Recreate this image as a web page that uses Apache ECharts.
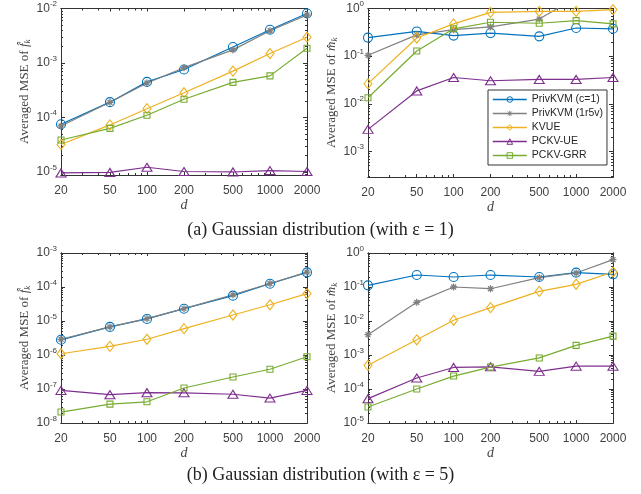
<!DOCTYPE html>
<html>
<head>
<meta charset="utf-8">
<script src="https://cdn.jsdelivr.net/npm/echarts@6/dist/echarts.min.js"></script>
<style>
  html, body { margin: 0; padding: 0; background: #fff; }
  #main { width: 641px; height: 494px; }
</style>
</head>
<body>
<div id="main"></div>
<script>
const chartDom = document.getElementById('main');
const myChart = echarts.init(chartDom);

// x values (domain size d)
const dims = [20, 50, 100, 200, 500, 1000, 2000];
const names = ['PrivKVM (c=1)', 'PrivKVM (1r5v)', 'KVUE', 'PCKV-UE', 'PCKV-GRR'];

// (a) eps = 1, MSE of f
const fA_c1   = [7.5e-5, 1.91e-4, 4.5e-4, 7.6e-4, 1.96e-3, 4.08e-3, 8.1e-3];
const fA_1r5v = [7.0e-5, 1.9e-4, 4.3e-4, 8.2e-4, 1.74e-3, 3.9e-3, 7.6e-3];
const fA_kvue = [3.2e-5, 7.3e-5, 1.45e-4, 2.85e-4, 7.1e-4, 1.49e-3, 2.97e-3];
const fA_ue   = [9.6e-6, 9.8e-6, 1.22e-5, 1.02e-5, 1.0e-5, 1.06e-5, 1.02e-5];
const fA_grr  = [3.86e-5, 6.3e-5, 1.1e-4, 2.16e-4, 4.4e-4, 5.8e-4, 1.86e-3];
// (a) eps = 1, MSE of m
const mA_c1   = [0.245, 0.33, 0.27, 0.305, 0.26, 0.39, 0.375];
const mA_1r5v = [0.104, 0.28, 0.36, 0.41, 0.6, 1.7, 2.5];
const mA_kvue = [0.0264, 0.24, 0.475, 0.83, 0.87, 0.87, 0.95];
const mA_ue   = [0.0029, 0.0186, 0.0356, 0.0304, 0.0324, 0.0324, 0.0356];
const mA_grr  = [0.0134, 0.128, 0.375, 0.515, 0.49, 0.557, 0.475];
// (b) eps = 5, MSE of f
const fB_c1   = [2.8e-6, 6.7e-6, 1.15e-5, 2.3e-5, 5.56e-5, 1.25e-4, 2.7e-4];
const fB_1r5v = [2.9e-6, 6.7e-6, 1.17e-5, 2.3e-5, 5.9e-5, 1.27e-4, 2.75e-4];
const fB_kvue = [1.09e-6, 1.8e-6, 2.9e-6, 5.96e-6, 1.5e-5, 3.0e-5, 6.4e-5];
const fB_ue   = [9.1e-8, 6.8e-8, 7.8e-8, 7.7e-8, 7.0e-8, 5.4e-8, 9.1e-8];
const fB_grr  = [2.1e-8, 3.6e-8, 4.2e-8, 1.07e-7, 2.25e-7, 3.8e-7, 8.9e-7];
// (b) eps = 5, MSE of m
const mB_c1   = [0.112, 0.225, 0.197, 0.225, 0.197, 0.264, 0.236];
const mB_1r5v = [0.00396, 0.0354, 0.1, 0.089, 0.188, 0.258, 0.637];
const mB_kvue = [4.97e-4, 2.8e-3, 0.0105, 0.0247, 0.0746, 0.12, 0.276];
const mB_ue   = [5.2e-5, 2.1e-4, 4.3e-4, 4.5e-4, 3.3e-4, 4.7e-4, 4.7e-4];
const mB_grr  = [2.96e-5, 1.0e-4, 2.4e-4, 4.4e-4, 8.2e-4, 1.92e-3, 3.6e-3];

const colors = ['#0072BD', '#808080', '#EDB120', '#7E2F8E', '#77AC30'];
const star = 'path://M5,0L5,10M0,5L10,5M1.5,1.5L8.5,8.5M8.5,1.5L1.5,8.5';
const symbols = ['circle', star, 'diamond', 'triangle', 'rect'];
const symbolSizes = [9, 7, [8, 10], [10, 8], 6];

// minor tick positions on the log x axis
const xMinors = [30, 40, 60, 70, 80, 90, 300, 400, 600, 700, 800, 900];

const panels = [
    { grid: { left: 61, top: 5, width: 246, height: 170 }, min: 8.8e-6, max: 1e-2, lo: -5, hi: -2,
      yName: 'Averaged MSE of {it|f\u0302}{sub|k}', data: [fA_c1, fA_1r5v, fA_kvue, fA_ue, fA_grr] },
    { grid: { left: 368, top: 5, width: 245, height: 172 }, min: 2.9e-4, max: 1, lo: -3, hi: 0,
      yName: 'Averaged MSE of {it|m\u0302}{sub|k}', data: [mA_c1, mA_1r5v, mA_kvue, mA_ue, mA_grr] },
    { grid: { left: 61, top: 253, width: 246, height: 170 }, min: 1e-8, max: 1e-3, lo: -8, hi: -3,
      yName: 'Averaged MSE of {it|f\u0302}{sub|k}', data: [fB_c1, fB_1r5v, fB_kvue, fB_ue, fB_grr] },
    { grid: { left: 368, top: 253, width: 245, height: 170 }, min: 1e-5, max: 1, lo: -5, hi: 0,
      yName: 'Averaged MSE of {it|m\u0302}{sub|k}', data: [mB_c1, mB_1r5v, mB_kvue, mB_ue, mB_grr] }
];

const axisColor = '#333';
const labelColor = '#404040';
const grids = [], xAxes = [], yAxes = [], series = [];

panels.forEach(function (p, gi) {
    grids.push(p.grid);
    let majors = [], minors = [];
    for (let e = p.lo - 1; e <= p.hi; e++) {
        const base = Math.pow(10, e);
        if (base >= p.min * 0.999 && base <= p.max * 1.001) majors.push(base);
        for (let k = 2; k <= 9; k++) {
            const v = k * base;
            if (v > p.min && v < p.max) minors.push(v);
        }
    }
    const line = { show: true, lineStyle: { color: axisColor, width: 1 } };
    const xBase = { gridIndex: gi, type: 'log', min: 20, max: 2000, axisLine: line, splitLine: { show: false } };
    // bottom x axis with labels
    xAxes.push(Object.assign({}, xBase, {
        position: 'bottom',
        axisTick: { inside: true, length: 3, customValues: dims, lineStyle: { color: axisColor } },
        axisLabel: { customValues: dims, margin: 10, color: labelColor, fontSize: 12, fontFamily: 'Liberation Sans',
                     formatter: function (v) { return String(v); } },
        name: 'd', nameLocation: 'middle', nameGap: 22,
        nameTextStyle: { fontFamily: 'Liberation Serif', fontStyle: 'italic', fontSize: 14, color: '#444' }
    }));
    xAxes.push(Object.assign({}, xBase, {
        position: 'bottom', axisLabel: { show: false },
        axisTick: { inside: true, length: 2, customValues: xMinors, lineStyle: { color: axisColor } }
    }));
    // top x axis (box)
    xAxes.push(Object.assign({}, xBase, {
        position: 'top', axisLabel: { show: false },
        axisTick: { inside: true, length: 3, customValues: dims, lineStyle: { color: axisColor } }
    }));
    xAxes.push(Object.assign({}, xBase, {
        position: 'top', axisLabel: { show: false },
        axisTick: { inside: true, length: 2, customValues: xMinors, lineStyle: { color: axisColor } }
    }));

    const yBase = { gridIndex: gi, type: 'log', min: p.min, max: p.max, axisLine: line, splitLine: { show: false } };
    yAxes.push(Object.assign({}, yBase, {
        position: 'left',
        axisTick: { inside: true, length: 4, customValues: majors, lineStyle: { color: axisColor } },
        axisLabel: {
            customValues: majors, margin: 4, color: labelColor, fontFamily: 'Liberation Sans',
            formatter: function (v) { return '{b|10}{s|' + Math.round(Math.log10(v)) + '}'; },
            rich: { b: { fontSize: 12, color: labelColor }, s: { fontSize: 8, color: labelColor, padding: [0, 0, 9, 0] } }
        },
        name: p.yName, nameLocation: 'middle', nameRotate: 90, nameGap: 29,
        nameTextStyle: {
            fontFamily: 'Liberation Serif', fontSize: 13, color: '#444',
            rich: { it: { fontFamily: 'Liberation Serif', fontStyle: 'italic', fontSize: 13, color: '#444' },
                    sub: { fontFamily: 'Liberation Serif', fontStyle: 'italic', fontSize: 9, color: '#444', padding: [5, 0, 0, 0] } }
        }
    }));
    yAxes.push(Object.assign({}, yBase, {
        position: 'left', axisLabel: { show: false },
        axisTick: { inside: true, length: 2, customValues: minors, lineStyle: { color: axisColor } }
    }));
    yAxes.push(Object.assign({}, yBase, {
        position: 'right', axisLabel: { show: false },
        axisTick: { inside: true, length: 4, customValues: majors, lineStyle: { color: axisColor } }
    }));
    yAxes.push(Object.assign({}, yBase, {
        position: 'right', axisLabel: { show: false },
        axisTick: { inside: true, length: 2, customValues: minors, lineStyle: { color: axisColor } }
    }));

    p.data.forEach(function (vals, si) {
        series.push({
            name: names[si], type: 'line',
            xAxisIndex: gi * 4, yAxisIndex: gi * 4,
            data: dims.map(function (d, i) { return [d, vals[i]]; }),
            symbol: symbols[si], symbolSize: symbolSizes[si],
            showAllSymbol: true, clip: true,
            lineStyle: { color: colors[si], width: 1.2 },
            itemStyle: { color: 'rgba(0,0,0,0)', borderColor: colors[si], borderWidth: si === 1 ? 1.3 : 1.1 },
            emphasis: { disabled: true },
            animation: false
        });
    });
});

const option = {
    backgroundColor: '#fff',
    animation: false,
    title: [
        { text: '(a) Gaussian distribution (with \u03b5 = 1)', left: 'center', top: 221, padding: 0,
          textStyle: { fontFamily: 'Liberation Serif', fontSize: 18, fontWeight: 'normal', color: '#222' } },
        { text: '(b) Gaussian distribution (with \u03b5 = 5)', left: 'center', top: 466, padding: 0,
          textStyle: { fontFamily: 'Liberation Serif', fontSize: 18, fontWeight: 'normal', color: '#222' } }
    ],
    legend: {
        data: names, orient: 'vertical', left: 488, top: 90,
        padding: [4, 4, 4, 4], itemWidth: 34, itemHeight: 7, itemGap: 3,
        backgroundColor: '#fff', borderColor: '#333', borderWidth: 1,
        itemStyle: { color: 'rgba(0,0,0,0)', borderWidth: 1 },
        lineStyle: { width: 1.6 },
        textStyle: { fontFamily: 'Liberation Sans', fontSize: 10.5, color: '#262626' }
    },
    grid: grids,
    xAxis: xAxes,
    yAxis: yAxes,
    series: series
};

myChart.setOption(option);
</script>
</body>
</html>
